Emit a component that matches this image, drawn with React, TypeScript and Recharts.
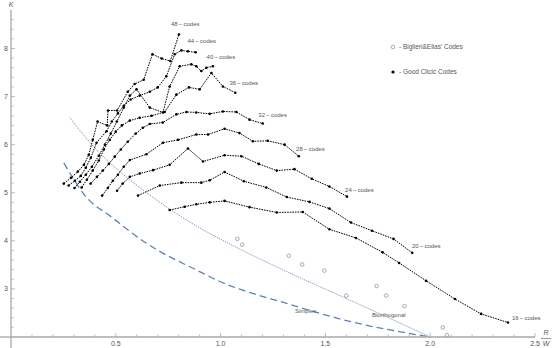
import React from 'react';
import { ComposedChart, Line, Scatter, XAxis, YAxis } from 'recharts';

type P = { x: number; k: number };

const codes48: P[] = [
  { x: 0.252, k: 5.19 }, { x: 0.286, k: 5.31 }, { x: 0.319, k: 5.44 }, { x: 0.348, k: 5.58 },
  { x: 0.371, k: 5.79 }, { x: 0.39, k: 6.1 }, { x: 0.413, k: 6.48 }, { x: 0.459, k: 6.4 },
  { x: 0.463, k: 6.71 }, { x: 0.506, k: 6.71 }, { x: 0.557, k: 7.1 }, { x: 0.59, k: 7.26 },
  { x: 0.633, k: 7.35 }, { x: 0.675, k: 7.88 }, { x: 0.719, k: 7.79 }, { x: 0.76, k: 7.74 },
  { x: 0.801, k: 8.29 },
];
const codes44: P[] = [
  { x: 0.275, k: 5.15 }, { x: 0.305, k: 5.25 }, { x: 0.333, k: 5.35 }, { x: 0.357, k: 5.52 },
  { x: 0.381, k: 5.73 }, { x: 0.408, k: 6.04 }, { x: 0.456, k: 6.28 }, { x: 0.481, k: 6.48 },
  { x: 0.51, k: 6.65 }, { x: 0.538, k: 6.81 }, { x: 0.571, k: 6.94 }, { x: 0.614, k: 7.02 },
  { x: 0.662, k: 7.1 }, { x: 0.7, k: 7.19 }, { x: 0.741, k: 7.42 }, { x: 0.781, k: 7.88 },
  { x: 0.813, k: 7.96 }, { x: 0.844, k: 7.94 }, { x: 0.881, k: 7.92 },
];
const codes40: P[] = [
  { x: 0.303, k: 5.1 }, { x: 0.329, k: 5.23 }, { x: 0.357, k: 5.375 }, { x: 0.386, k: 5.54 },
  { x: 0.419, k: 5.77 }, { x: 0.448, k: 6.0 }, { x: 0.476, k: 6.23 }, { x: 0.505, k: 6.48 },
  { x: 0.538, k: 6.77 }, { x: 0.567, k: 7.02 }, { x: 0.599, k: 7.15 }, { x: 0.662, k: 6.77 },
  { x: 0.725, k: 6.67 }, { x: 0.757, k: 7.21 }, { x: 0.805, k: 7.63 }, { x: 0.86, k: 7.67 },
  { x: 0.884, k: 7.63 }, { x: 0.908, k: 7.53 }, { x: 0.932, k: 7.6 }, { x: 0.963, k: 7.63 },
];
const codes36: P[] = [
  { x: 0.337, k: 5.11 }, { x: 0.362, k: 5.27 }, { x: 0.39, k: 5.46 }, { x: 0.419, k: 5.67 },
  { x: 0.443, k: 5.9 }, { x: 0.471, k: 6.1 }, { x: 0.5, k: 6.27 }, { x: 0.529, k: 6.4 },
  { x: 0.567, k: 6.5 }, { x: 0.614, k: 6.56 }, { x: 0.671, k: 6.6 }, { x: 0.733, k: 6.68 },
  { x: 0.789, k: 7.04 }, { x: 0.849, k: 7.19 }, { x: 0.9, k: 7.15 }, { x: 0.956, k: 7.49 },
  { x: 1.011, k: 7.21 }, { x: 1.07, k: 7.08 },
];
const codes32: P[] = [
  { x: 0.38, k: 5.19 }, { x: 0.41, k: 5.33 }, { x: 0.438, k: 5.46 }, { x: 0.467, k: 5.6 },
  { x: 0.495, k: 5.75 }, { x: 0.524, k: 5.9 }, { x: 0.557, k: 6.06 }, { x: 0.595, k: 6.23 },
  { x: 0.629, k: 6.35 }, { x: 0.662, k: 6.43 }, { x: 0.724, k: 6.46 }, { x: 0.789, k: 6.63 },
  { x: 0.837, k: 6.68 }, { x: 0.884, k: 6.67 }, { x: 0.948, k: 6.64 }, { x: 1.011, k: 6.69 },
  { x: 1.075, k: 6.68 }, { x: 1.138, k: 6.52 }, { x: 1.201, k: 6.44 },
];
const codes28: P[] = [
  { x: 0.435, k: 4.94 }, { x: 0.462, k: 5.1 }, { x: 0.486, k: 5.25 }, { x: 0.51, k: 5.375 },
  { x: 0.538, k: 5.54 }, { x: 0.567, k: 5.68 }, { x: 0.646, k: 5.8 }, { x: 0.725, k: 6.04 },
  { x: 0.797, k: 6.1 }, { x: 0.884, k: 6.21 }, { x: 0.94, k: 6.21 }, { x: 1.019, k: 6.33 },
  { x: 1.09, k: 6.24 }, { x: 1.154, k: 6.07 }, { x: 1.225, k: 6.08 }, { x: 1.305, k: 6.0 },
  { x: 1.373, k: 5.76 },
];
const codes24: P[] = [
  { x: 0.506, k: 5.04 }, { x: 0.533, k: 5.19 }, { x: 0.567, k: 5.33 }, { x: 0.614, k: 5.4 },
  { x: 0.678, k: 5.47 }, { x: 0.757, k: 5.58 }, { x: 0.844, k: 5.92 }, { x: 0.916, k: 5.65 },
  { x: 1.019, k: 5.78 }, { x: 1.099, k: 5.76 }, { x: 1.182, k: 5.6 }, { x: 1.268, k: 5.46 },
  { x: 1.352, k: 5.49 }, { x: 1.435, k: 5.29 }, { x: 1.519, k: 5.13 }, { x: 1.603, k: 4.92 },
];
const codes20: P[] = [
  { x: 0.606, k: 4.94 }, { x: 0.71, k: 5.15 }, { x: 0.813, k: 5.21 }, { x: 0.908, k: 5.21 },
  { x: 0.948, k: 5.26 }, { x: 1.019, k: 5.43 }, { x: 1.111, k: 5.24 }, { x: 1.218, k: 5.11 },
  { x: 1.316, k: 4.91 }, { x: 1.424, k: 4.81 }, { x: 1.519, k: 4.67 }, { x: 1.622, k: 4.38 },
  { x: 1.722, k: 4.21 }, { x: 1.825, k: 4.04 }, { x: 1.914, k: 3.75 },
];
const codes16: P[] = [
  { x: 0.757, k: 4.64 }, { x: 0.829, k: 4.71 }, { x: 0.884, k: 4.76 }, { x: 0.948, k: 4.8 },
  { x: 1.019, k: 4.83 }, { x: 1.138, k: 4.7 }, { x: 1.268, k: 4.59 }, { x: 1.392, k: 4.6 },
  { x: 1.519, k: 4.24 }, { x: 1.646, k: 4.06 }, { x: 1.773, k: 3.76 }, { x: 1.852, k: 3.54 },
  { x: 1.98, k: 3.17 }, { x: 2.118, k: 2.79 }, { x: 2.243, k: 2.48 }, { x: 2.371, k: 2.3 },
];

const simplexCurve: P[] = [
  { x: 0.252, k: 5.62 }, { x: 0.305, k: 5.24 }, { x: 0.344, k: 4.99 }, { x: 0.487, k: 4.47 },
  { x: 0.646, k: 3.95 }, { x: 0.9, k: 3.36 }, { x: 0.979, k: 3.19 }, { x: 1.329, k: 2.68 },
  { x: 1.611, k: 2.33 }, { x: 2.0, k: 2.0 },
];
const biorthogonalCurve: P[] = [
  { x: 0.281, k: 6.56 }, { x: 0.352, k: 6.17 }, { x: 0.424, k: 5.82 }, { x: 0.519, k: 5.44 },
  { x: 0.614, k: 5.11 }, { x: 0.757, k: 4.66 }, { x: 0.9, k: 4.27 }, { x: 1.059, k: 3.9 },
  { x: 1.218, k: 3.56 }, { x: 1.395, k: 3.2 }, { x: 1.61, k: 2.78 }, { x: 1.776, k: 2.45 },
  { x: 2.0, k: 2.0 },
];
const bieliCodes: P[] = [
  { x: 1.08, k: 4.04 }, { x: 1.103, k: 3.92 }, { x: 1.325, k: 3.69 }, { x: 1.389, k: 3.51 },
  { x: 1.495, k: 3.38 }, { x: 1.599, k: 2.86 }, { x: 1.744, k: 3.06 }, { x: 1.79, k: 2.86 },
  { x: 1.877, k: 2.64 }, { x: 2.06, k: 2.2 }, { x: 2.08, k: 2.04 },
];

const codeNames = ['48', '44', '40', '36', '32', '28', '24', '20', '16'];
const codeSeries: P[][] = [codes48, codes44, codes40, codes36, codes32, codes28, codes24, codes20, codes16];
const codeLabelAnchors: P[] = [
  { x: 0.763, k: 8.51 }, { x: 0.842, k: 8.155 }, { x: 0.933, k: 7.83 }, { x: 1.042, k: 7.28 },
  { x: 1.18, k: 6.62 }, { x: 1.36, k: 5.92 }, { x: 1.594, k: 5.06 }, { x: 1.913, k: 3.89 },
  { x: 2.39, k: 2.39 },
];
const curveNames = ['Simplex', 'Biorthogonal'];
const curveLabelAnchors: P[] = [{ x: 1.355, k: 2.54 }, { x: 1.722, k: 2.46 }];

const xMajorTicks = [0.5, 1.0, 1.5, 2.0, 2.5];
const yMajorTicks = [3, 4, 5, 6, 7, 8];

const xTickVals: number[] = [];
for (let i = 1; i <= 25; i++) xTickVals.push(i / 10);
const yTickVals: number[] = [];
for (let i = 1; i <= 33; i++) yTickVals.push(Math.round((2 + i * 0.2) * 100) / 100);

const FONT = 'Liberation Sans, Arial, sans-serif';
const BLUE = '#5e81b5';
const AXIS = '#a8a8a8';
const LABEL = '#555';

const isMajor = (v: number, list: number[]) => list.some((m) => Math.abs(m - v) < 1e-6);

const XTick = (props: any) => {
  const { x, y, payload } = props;
  const v = payload.value as number;
  const major = isMajor(v, xMajorTicks);
  return (
    <g>
      <line x1={x} x2={x} y1={y} y2={y - (major ? 4 : 2.5)} stroke={AXIS} strokeWidth={0.8} />
      {major && (
        <text x={x} y={y + 7} dy="0.35em" textAnchor="middle" fontSize={7} fill={LABEL} fontFamily={FONT}>
          {v.toFixed(1)}
        </text>
      )}
    </g>
  );
};

const YTick = (props: any) => {
  const { x, y, payload } = props;
  const v = payload.value as number;
  const major = isMajor(v, yMajorTicks);
  return (
    <g>
      <line x1={x} x2={x + (major ? 4 : 2.5)} y1={y} y2={y} stroke={AXIS} strokeWidth={0.8} />
      {major && (
        <text x={x - 3} y={y} dy="0.35em" textAnchor="end" fontSize={7} fill={LABEL} fontFamily={FONT}>
          {v}
        </text>
      )}
    </g>
  );
};

const codeLabelData = codeLabelAnchors.map((p, i) => ({ ...p, text: `${codeNames[i]}\u2009\u2212\u2009codes` }));
const curveLabelData = curveLabelAnchors.map((p, i) => ({ ...p, text: curveNames[i] }));

const TextShape = (props: any) => (
  <text x={props.cx} y={props.cy} dy="0.35em" fontSize={6} fill={LABEL} fontFamily={FONT}>
    {props.payload.text}
  </text>
);

const OpenCircle = (props: any) => (
  <circle cx={props.cx} cy={props.cy} r={1.8} fill="#fff" stroke="#777" strokeWidth={0.6} />
);

export default function App() {
  return (
    <div style={{ position: 'absolute', left: 0, top: 0, width: 556, height: 348, background: '#fff' }}>
      <ComposedChart width={556} height={348} margin={{ top: 10, right: 21, bottom: 0, left: 10 }}>
        <XAxis
          type="number"
          dataKey="x"
          domain={[0, 2.5]}
          ticks={xTickVals}
          interval={0}
          tickSize={0}
          tickMargin={0}
          tickLine={false}
          tick={(p: any) => <XTick {...p} />}
          axisLine={{ stroke: AXIS, strokeWidth: 1.3 }}
          height={11}
        />
        <YAxis
          type="number"
          dataKey="k"
          domain={[2, 8.8]}
          ticks={yTickVals}
          interval={0}
          tickSize={0}
          tickMargin={0}
          tickLine={false}
          tick={(p: any) => <YTick {...p} />}
          axisLine={{ stroke: AXIS, strokeWidth: 1.3 }}
          width={1}
        />
        <Line
          data={simplexCurve}
          dataKey="k"
          type="monotone"
          stroke={BLUE}
          strokeWidth={1.3}
          strokeDasharray="7 4"
          dot={false}
          activeDot={false}
          isAnimationActive={false}
        />
        <Line
          data={biorthogonalCurve}
          dataKey="k"
          type="monotone"
          stroke={BLUE}
          strokeWidth={1}
          strokeDasharray="1 1.2"
          dot={false}
          activeDot={false}
          isAnimationActive={false}
        />
        {codeSeries.map((s, i) => (
          <Line
            key={codeNames[i]}
            data={s}
            dataKey="k"
            type="linear"
            stroke="#000"
            strokeWidth={1}
            strokeDasharray="1.6 1"
            dot={{ r: 1.3, fill: '#000', stroke: 'none' }}
            activeDot={false}
            isAnimationActive={false}
          />
        ))}
        <Scatter data={bieliCodes} dataKey="k" shape={(p: any) => <OpenCircle {...p} />} isAnimationActive={false} />
        <Scatter data={codeLabelData} dataKey="k" shape={(p: any) => <TextShape {...p} />} isAnimationActive={false} />
        <Scatter data={curveLabelData} dataKey="k" shape={(p: any) => <TextShape {...p} />} isAnimationActive={false} />
      </ComposedChart>
      <svg
        width={556}
        height={348}
        style={{ position: 'absolute', left: 0, top: 0, pointerEvents: 'none' }}
      >
        <line x1={0} x2={11} y1={337} y2={337} stroke={AXIS} strokeWidth={1.3} />
        <line x1={11} x2={11} y1={337} y2={348} stroke={AXIS} strokeWidth={1.3} />
        <text x={11} y={5} dy="0.35em" fontSize={7} fontStyle="italic" fill={LABEL} fontFamily={FONT} textAnchor="middle">
          K
        </text>
        <text x={546} y={333} dy="0.35em" fontSize={7} fontStyle="italic" fill={LABEL} fontFamily={FONT} textAnchor="middle">
          R
        </text>
        <line x1={541} x2={551} y1={338.5} y2={338.5} stroke={LABEL} strokeWidth={0.6} />
        <text x={546} y={344} dy="0.35em" fontSize={7} fontStyle="italic" fill={LABEL} fontFamily={FONT} textAnchor="middle">
          W
        </text>
        <circle cx={393} cy={47} r={1.8} fill="#fff" stroke="#777" strokeWidth={0.6} />
        <text x={399} y={47} dy="0.35em" fontSize={6.5} fill={LABEL} fontFamily={FONT}>
          - Biglieri&amp;Elias' Codes
        </text>
        <circle cx={393} cy={72} r={1.6} fill="#000" />
        <text x={399} y={72} dy="0.35em" fontSize={6.5} fill={LABEL} fontFamily={FONT}>
          - Good Clicic Codes
        </text>
      </svg>
    </div>
  );
}
